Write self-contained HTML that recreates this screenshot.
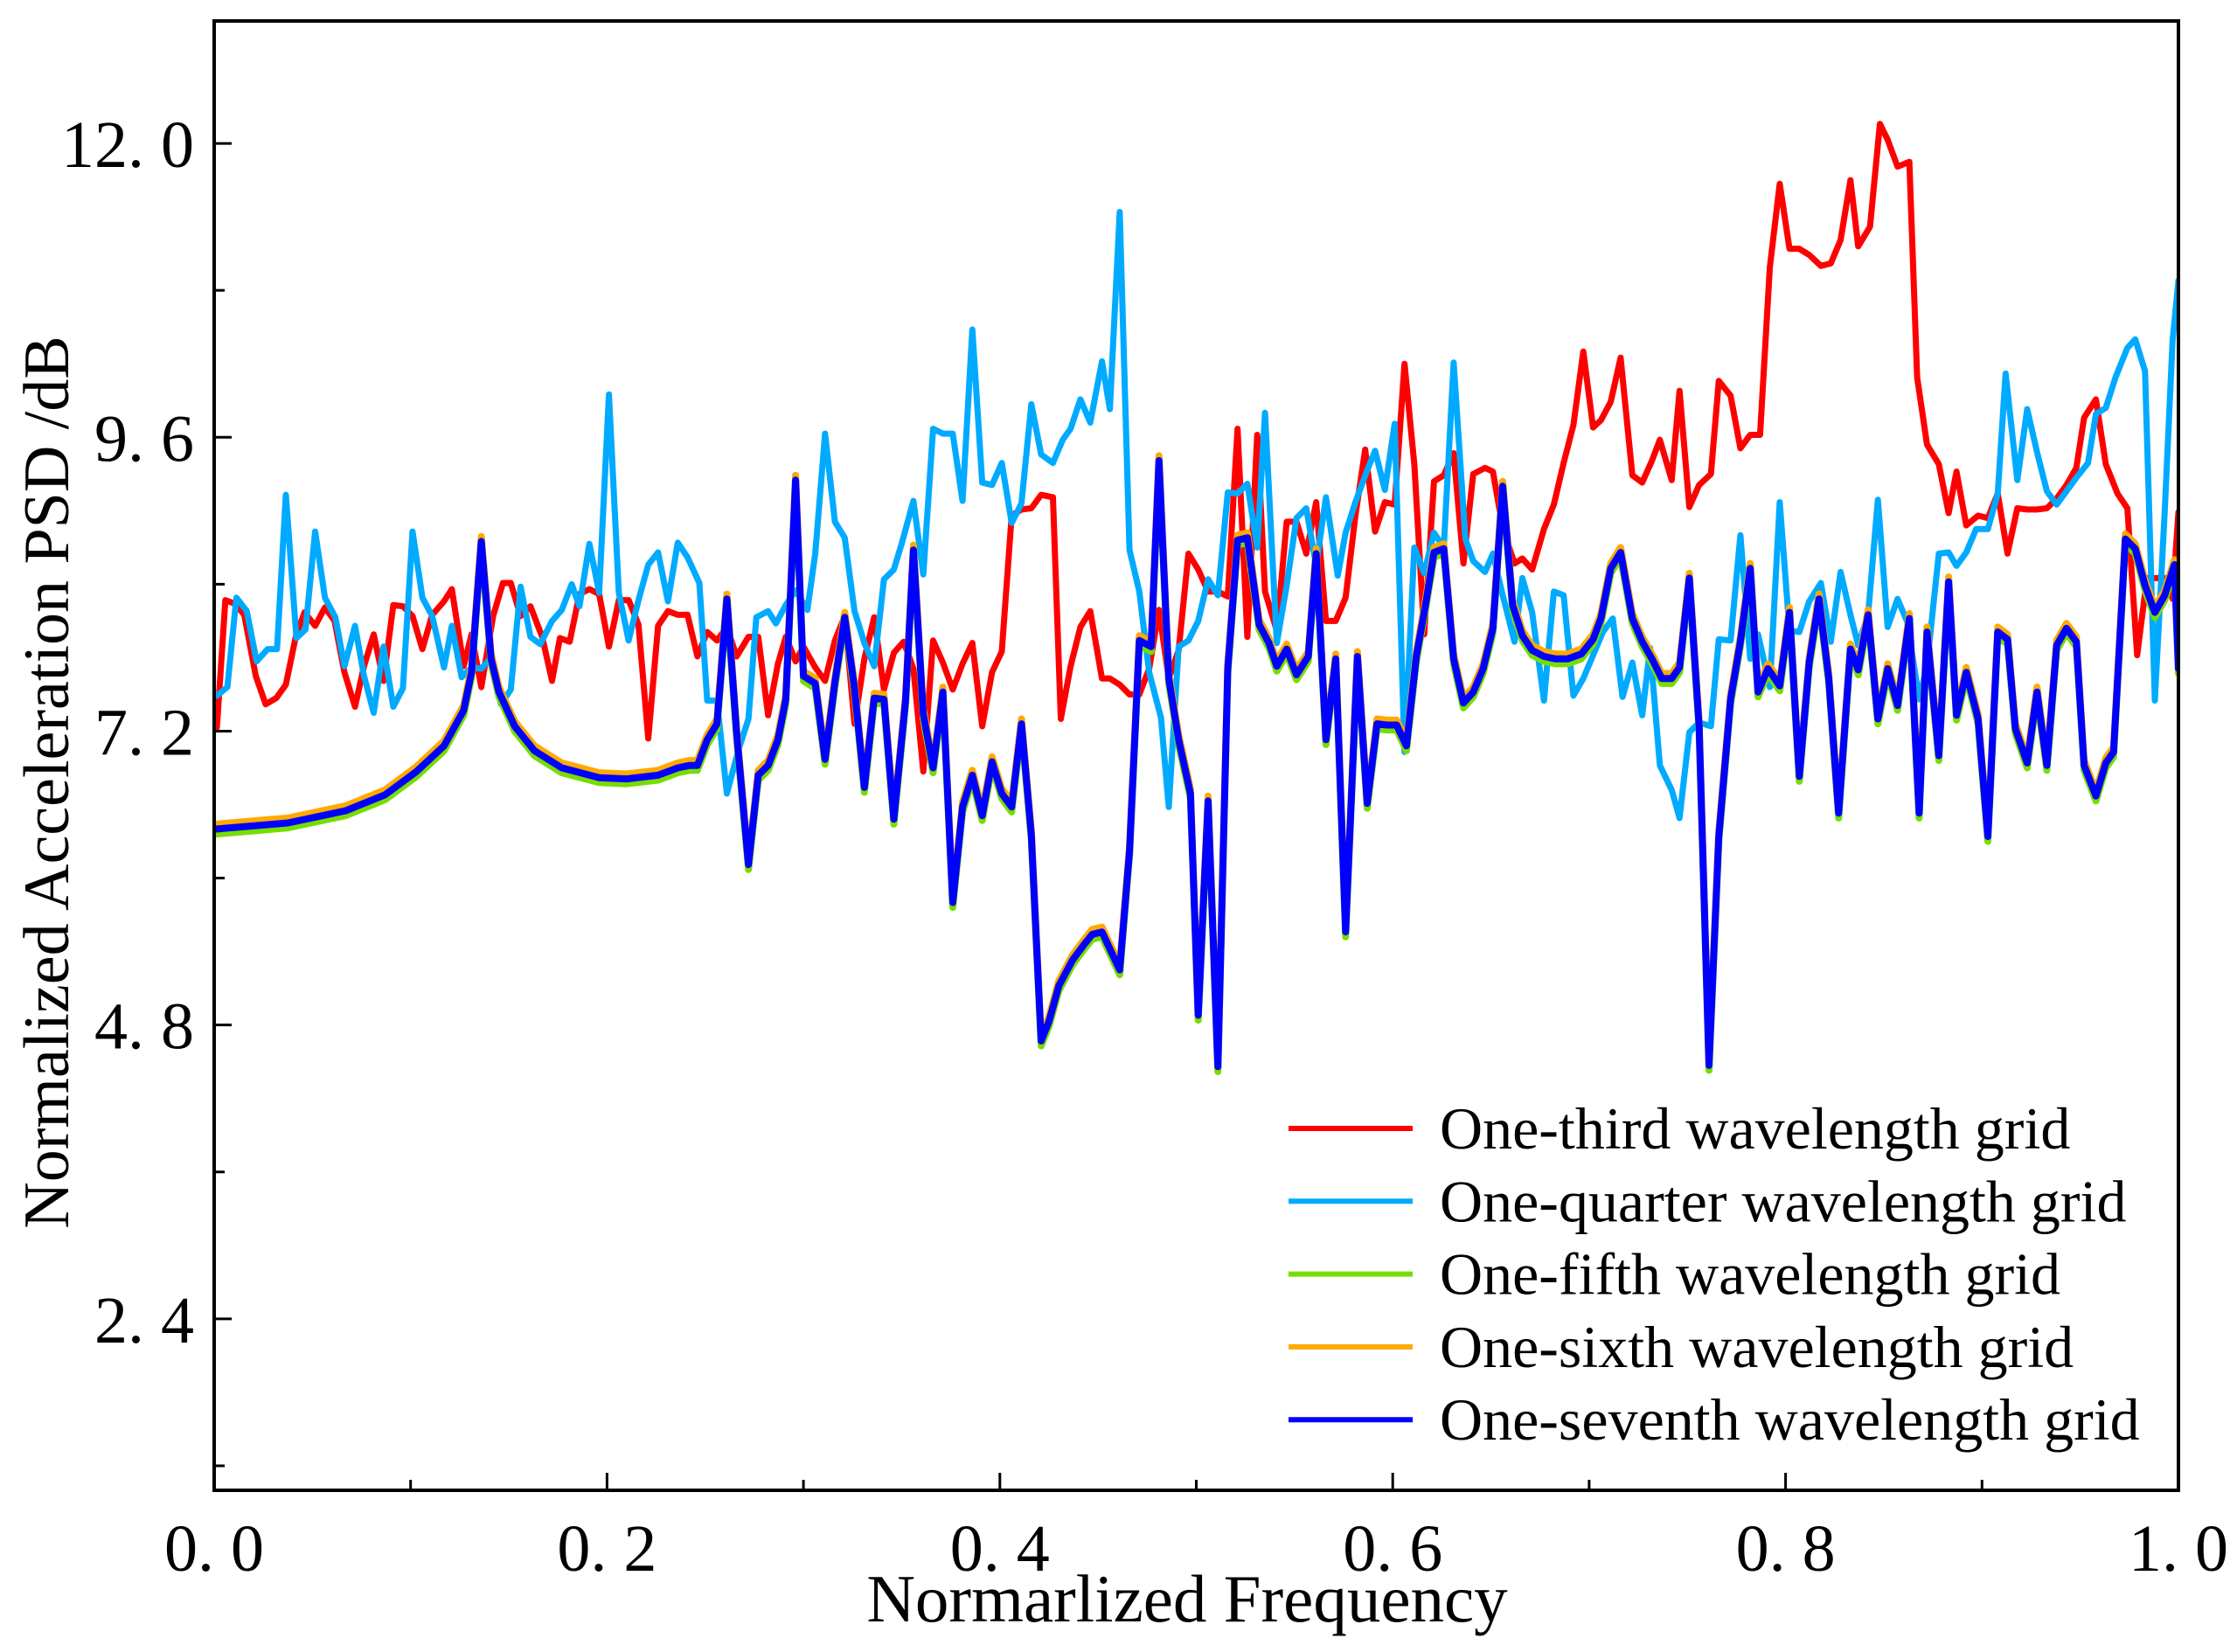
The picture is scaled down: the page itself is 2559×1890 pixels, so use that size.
<!DOCTYPE html>
<html><head><meta charset="utf-8"><style>
html,body{margin:0;padding:0;background:#fff;}
svg{display:block;font-family:"Liberation Serif","Noto Serif CJK SC",serif;}
</style></head><body>
<svg id="chart" width="2559" height="1890" viewBox="0 0 2559 1890" xmlns="http://www.w3.org/2000/svg">
<rect x="0" y="0" width="2559" height="1890" fill="#fff"/>
<g id="series"></g>
<g id="axes"></g>
<g id="legend"></g>
</svg>
<script>
const xTickVals=[0,0.2,0.4,0.6,0.8,1.0];
const xTickLabels=["0. 0","0. 2","0. 4","0. 6","0. 8","1. 0"];
const xMinorVals=[0.1,0.3,0.5,0.7,0.9];
const yTickVals=[2.4,4.8,7.2,9.6,12.0];
const yTickLabels=["2. 4","4. 8","7. 2","9. 6","12. 0"];
const yMinorVals=[1.2,3.6,6.0,8.4,10.8];
const legendLabels=["One-third wavelength grid","One-quarter wavelength grid","One-fifth wavelength grid","One-sixth wavelength grid","One-seventh wavelength grid"];

const thirdFreq=[0.0014,0.0057,0.0107,0.0153,0.0212,0.0262,0.0316,0.0365,0.0415,0.046,0.0514,0.0564,0.0613,0.0663,0.0717,0.0763,0.0812,0.0862,0.0912,0.0961,0.101,0.106,0.111,0.117,0.121,0.127,0.131,0.136,0.142,0.147,0.151,0.156,0.161,0.167,0.172,0.176,0.181,0.186,0.191,0.196,0.201,0.206,0.211,0.216,0.221,0.226,0.231,0.236,0.241,0.246,0.251,0.256,0.261,0.266,0.272,0.277,0.282,0.287,0.291,0.296,0.300,0.306,0.311,0.316,0.321,0.326,0.331,0.336,0.341,0.346,0.351,0.356,0.361,0.366,0.371,0.376,0.381,0.386,0.391,0.396,0.401,0.406,0.411,0.416,0.421,0.427,0.431,0.436,0.441,0.446,0.452,0.456,0.461,0.466,0.471,0.476,0.481,0.486,0.491,0.496,0.501,0.506,0.511,0.516,0.521,0.526,0.531,0.535,0.541,0.546,0.551,0.556,0.561,0.566,0.571,0.576,0.581,0.586,0.591,0.596,0.601,0.606,0.611,0.616,0.621,0.626,0.631,0.636,0.641,0.647,0.651,0.656,0.662,0.666,0.671,0.677,0.682,0.687,0.692,0.697,0.702,0.706,0.711,0.716,0.722,0.727,0.732,0.736,0.742,0.746,0.751,0.756,0.762,0.766,0.772,0.777,0.782,0.787,0.792,0.797,0.802,0.807,0.812,0.818,0.823,0.828,0.833,0.837,0.843,0.848,0.852,0.857,0.863,0.867,0.872,0.878,0.883,0.887,0.892,0.898,0.903,0.908,0.913,0.918,0.923,0.928,0.933,0.938,0.943,0.948,0.952,0.958,0.963,0.969,0.974,0.979,0.984,0.989,0.994,0.997,1.0];
const thirdVals=[7.23,8.27,8.24,8.15,7.65,7.42,7.47,7.58,7.97,8.17,8.06,8.21,8.10,7.68,7.40,7.73,7.99,7.61,8.23,8.22,8.14,7.87,8.15,8.26,8.36,7.73,7.99,7.56,8.14,8.41,8.41,8.14,8.22,7.97,7.61,7.96,7.93,8.32,8.36,8.32,7.89,8.27,8.27,8.07,7.14,8.06,8.18,8.15,8.15,7.81,8.01,7.94,8.05,7.81,7.97,7.97,7.33,7.75,7.97,7.77,7.89,7.72,7.61,7.94,8.14,7.26,7.79,8.13,7.54,7.84,7.93,7.71,6.87,7.94,7.76,7.54,7.75,7.92,7.24,7.68,7.85,8.96,9.01,9.02,9.13,9.11,7.30,7.73,8.05,8.18,7.63,7.63,7.58,7.50,7.50,7.71,8.19,7.63,7.86,8.65,8.52,8.34,8.34,8.30,9.67,7.97,9.62,8.34,8.02,8.91,8.91,8.65,9.07,8.10,8.10,8.29,8.96,9.50,8.83,9.07,9.05,10.2,9.38,7.99,9.24,9.29,9.47,8.57,9.30,9.35,9.32,8.86,8.57,8.61,8.52,8.85,9.05,9.39,9.70,10.30,9.68,9.74,9.89,10.25,9.29,9.23,9.41,9.58,9.25,9.98,9.03,9.21,9.30,10.06,9.94,9.51,9.62,9.62,10.99,11.67,11.14,11.14,11.09,11.00,11.02,11.21,11.70,11.16,11.32,12.16,12.03,11.81,11.85,10.09,9.54,9.38,8.98,9.32,8.88,8.96,8.94,9.14,8.65,9.02,9.01,9.01,9.02,9.10,9.21,9.35,9.76,9.91,9.38,9.14,9.02,7.82,8.45,8.45,8.45,8.28,8.99];

const quarterFreq=[0.0014,0.0067,0.0113,0.0166,0.0216,0.0272,0.032,0.0365,0.0419,0.0465,0.0514,0.0564,0.0617,0.0663,0.0717,0.0763,0.0812,0.0862,0.0912,0.0961,0.101,0.106,0.111,0.117,0.121,0.126,0.131,0.136,0.141,0.146,0.151,0.156,0.161,0.166,0.172,0.177,0.182,0.186,0.191,0.196,0.201,0.206,0.211,0.216,0.221,0.226,0.231,0.236,0.241,0.247,0.251,0.256,0.261,0.267,0.272,0.276,0.282,0.286,0.291,0.296,0.302,0.306,0.311,0.316,0.321,0.326,0.331,0.336,0.341,0.346,0.350,0.356,0.361,0.366,0.371,0.376,0.381,0.386,0.391,0.396,0.401,0.406,0.411,0.416,0.421,0.427,0.432,0.436,0.441,0.446,0.452,0.456,0.461,0.466,0.471,0.476,0.482,0.486,0.491,0.496,0.501,0.506,0.511,0.516,0.521,0.526,0.531,0.535,0.541,0.546,0.551,0.556,0.561,0.566,0.572,0.576,0.581,0.587,0.591,0.596,0.601,0.606,0.611,0.616,0.621,0.626,0.631,0.637,0.641,0.647,0.651,0.656,0.662,0.666,0.671,0.677,0.682,0.687,0.692,0.697,0.702,0.707,0.712,0.717,0.722,0.727,0.731,0.736,0.742,0.746,0.751,0.756,0.762,0.766,0.772,0.777,0.782,0.786,0.792,0.797,0.802,0.807,0.812,0.818,0.823,0.828,0.833,0.837,0.842,0.847,0.852,0.857,0.862,0.868,0.872,0.878,0.883,0.887,0.892,0.897,0.903,0.908,0.912,0.918,0.923,0.928,0.933,0.938,0.943,0.948,0.954,0.958,0.963,0.968,0.974,0.978,0.983,0.988,0.993,0.997,1.0];
const quarterVals=[7.49,7.56,8.29,8.18,7.77,7.87,7.87,9.13,7.96,8.03,8.83,8.29,8.13,7.73,8.06,7.65,7.35,7.89,7.40,7.55,8.83,8.29,8.14,7.72,8.06,7.64,7.72,7.71,7.80,7.42,7.54,8.38,7.97,7.91,8.10,8.19,8.40,8.22,8.73,8.33,9.95,8.33,7.94,8.27,8.56,8.66,8.26,8.74,8.62,8.41,7.45,7.45,6.69,7.05,7.30,8.13,8.18,8.08,8.23,8.35,8.19,8.65,9.63,8.91,8.78,8.18,7.92,7.73,8.44,8.52,8.73,9.08,8.48,9.67,9.63,9.63,9.08,10.48,9.23,9.21,9.39,8.90,9.06,9.87,9.46,9.39,9.58,9.67,9.91,9.72,10.22,9.83,11.44,8.68,8.34,7.68,7.31,6.58,7.89,7.94,8.10,8.44,8.31,9.15,9.14,9.22,8.70,9.80,7.92,8.39,8.94,9.02,8.55,9.11,8.47,8.82,9.07,9.33,9.49,9.17,9.71,7.03,8.70,8.49,8.82,8.70,10.21,8.77,8.59,8.50,8.65,8.31,7.93,8.45,8.17,7.45,8.34,8.31,7.49,7.63,7.82,8.01,8.12,7.48,7.76,7.33,7.88,6.92,6.72,6.49,7.19,7.27,7.24,7.95,7.94,8.80,7.79,7.99,7.56,9.07,8.02,8.01,8.26,8.41,7.93,8.50,8.15,7.90,8.15,9.09,8.05,8.28,8.09,7.46,7.74,8.65,8.66,8.55,8.66,8.85,8.85,9.14,10.12,9.25,9.83,9.48,9.16,9.05,9.16,9.27,9.39,9.79,9.84,10.09,10.33,10.40,10.14,7.45,8.99,10.39,10.88];

const gridFreq=[0.001,0.0375,0.067,0.087,0.103,0.117,0.127,0.131,0.136,0.141,0.145,0.153,0.163,0.177,0.196,0.21,0.226,0.236,0.242,0.246,0.251,0.256,0.261,0.266,0.272,0.277,0.282,0.287,0.291,0.296,0.300,0.306,0.311,0.316,0.321,0.326,0.331,0.336,0.341,0.346,0.352,0.356,0.361,0.366,0.371,0.376,0.381,0.386,0.391,0.396,0.401,0.406,0.411,0.416,0.421,0.425,0.430,0.437,0.443,0.447,0.452,0.461,0.466,0.471,0.477,0.481,0.486,0.491,0.497,0.501,0.506,0.511,0.516,0.521,0.526,0.532,0.537,0.541,0.546,0.551,0.557,0.561,0.566,0.571,0.576,0.582,0.587,0.592,0.597,0.602,0.607,0.612,0.617,0.621,0.626,0.631,0.636,0.641,0.646,0.651,0.656,0.661,0.666,0.671,0.677,0.683,0.689,0.696,0.702,0.706,0.711,0.716,0.722,0.727,0.732,0.737,0.742,0.746,0.751,0.756,0.761,0.766,0.772,0.777,0.782,0.786,0.791,0.797,0.802,0.807,0.812,0.817,0.822,0.827,0.833,0.837,0.842,0.847,0.852,0.857,0.863,0.868,0.872,0.878,0.883,0.887,0.892,0.898,0.903,0.908,0.913,0.917,0.923,0.928,0.933,0.938,0.943,0.948,0.952,0.958,0.963,0.967,0.973,0.978,0.983,0.988,0.993,0.998,1.0];
const fifthVals=[6.36,6.41,6.51,6.64,6.83,7.04,7.33,7.64,8.71,7.75,7.48,7.20,7.00,6.86,6.78,6.77,6.80,6.86,6.88,6.88,7.09,7.22,8.24,7.14,6.07,6.80,6.88,7.09,7.42,9.21,7.61,7.55,6.93,7.56,8.09,7.51,6.70,7.43,7.42,6.44,7.41,8.64,7.30,6.86,7.48,5.76,6.54,6.80,6.47,6.91,6.65,6.54,7.22,6.31,4.63,4.79,5.08,5.29,5.42,5.50,5.52,5.21,6.18,7.90,7.85,9.37,7.59,7.09,6.65,4.84,6.59,4.42,7.67,8.72,8.74,8.03,7.88,7.69,7.83,7.62,7.77,8.61,7.09,7.75,5.52,7.77,6.57,7.22,7.21,7.21,7.04,7.77,8.22,8.62,8.65,7.75,7.39,7.48,7.67,8.00,9.16,8.19,7.94,7.82,7.77,7.75,7.75,7.79,7.91,8.08,8.49,8.62,8.08,7.89,7.75,7.59,7.59,7.68,8.41,7.20,4.43,6.30,7.42,7.89,8.49,7.48,7.67,7.53,8.13,6.79,7.72,8.24,7.59,6.49,7.83,7.66,8.11,7.26,7.67,7.37,8.08,6.49,7.97,6.96,8.38,7.29,7.64,7.26,6.30,7.97,7.91,7.18,6.90,7.48,6.88,7.86,8.00,7.89,6.88,6.63,6.90,6.99,8.73,8.65,8.35,8.13,8.27,8.52,7.67];
const sixthVals=[6.44,6.49,6.59,6.72,6.91,7.12,7.41,7.72,8.79,7.83,7.56,7.28,7.08,6.94,6.86,6.85,6.88,6.94,6.96,6.96,7.17,7.30,8.32,7.22,6.15,6.88,6.96,7.17,7.50,9.29,7.69,7.63,7.01,7.64,8.17,7.59,6.78,7.51,7.50,6.52,7.49,8.72,7.38,6.94,7.56,5.84,6.62,6.88,6.55,6.99,6.73,6.62,7.30,6.39,4.71,4.87,5.16,5.37,5.50,5.58,5.60,5.29,6.26,7.98,7.93,9.45,7.67,7.17,6.73,4.92,6.67,4.50,7.75,8.80,8.82,8.11,7.96,7.77,7.91,7.70,7.85,8.69,7.17,7.83,5.60,7.85,6.65,7.30,7.29,7.29,7.12,7.85,8.30,8.70,8.73,7.83,7.47,7.56,7.75,8.08,9.24,8.27,8.02,7.90,7.85,7.83,7.83,7.87,7.99,8.16,8.57,8.70,8.16,7.97,7.83,7.67,7.67,7.76,8.49,7.28,4.51,6.38,7.50,7.97,8.57,7.56,7.75,7.61,8.21,6.87,7.80,8.32,7.67,6.57,7.91,7.74,8.19,7.34,7.75,7.45,8.16,6.57,8.05,7.04,8.46,7.37,7.72,7.34,6.38,8.05,7.99,7.26,6.98,7.56,6.96,7.94,8.08,7.97,6.96,6.71,6.98,7.07,8.81,8.73,8.43,8.21,8.35,8.60,7.75];
const seventhVals=[6.40,6.45,6.55,6.68,6.87,7.08,7.37,7.68,8.75,7.79,7.52,7.24,7.04,6.90,6.82,6.81,6.84,6.90,6.92,6.92,7.13,7.26,8.28,7.18,6.11,6.84,6.92,7.13,7.46,9.25,7.65,7.59,6.97,7.60,8.13,7.55,6.74,7.47,7.46,6.48,7.45,8.68,7.34,6.90,7.52,5.80,6.58,6.84,6.51,6.95,6.69,6.58,7.26,6.35,4.67,4.83,5.12,5.33,5.46,5.54,5.56,5.25,6.22,7.94,7.89,9.41,7.63,7.13,6.69,4.88,6.63,4.46,7.71,8.76,8.78,8.07,7.92,7.73,7.87,7.66,7.81,8.65,7.13,7.79,5.56,7.81,6.61,7.26,7.25,7.25,7.08,7.81,8.26,8.66,8.69,7.79,7.43,7.52,7.71,8.04,9.20,8.23,7.98,7.86,7.81,7.79,7.79,7.83,7.95,8.12,8.53,8.66,8.12,7.93,7.79,7.63,7.63,7.72,8.45,7.24,4.47,6.34,7.46,7.93,8.53,7.52,7.71,7.57,8.17,6.83,7.76,8.28,7.63,6.53,7.87,7.70,8.15,7.30,7.71,7.41,8.12,6.53,8.01,7.00,8.42,7.33,7.68,7.30,6.34,8.01,7.95,7.22,6.94,7.52,6.92,7.90,8.04,7.93,6.92,6.67,6.94,7.03,8.77,8.69,8.39,8.17,8.31,8.56,7.71];

const NS="http://www.w3.org/2000/svg";
const L=245,R=2492,T=24,B=1705,XMIN=0,XMAX=1,YMIN=1,YMAX=13;
function xs(v){return L+(v-XMIN)/(XMAX-XMIN)*(R-L);}
function ys(v){return B-(v-YMIN)/(YMAX-YMIN)*(B-T);}
function mk(tag,attrs,parent){const e=document.createElementNS(NS,tag);for(const k in attrs)e.setAttribute(k,attrs[k]);parent.appendChild(e);return e;}
const gS=document.getElementById('series'),gA=document.getElementById('axes'),gL=document.getElementById('legend');
const clip=mk('clipPath',{id:'pc'},document.getElementById('chart'));
mk('rect',{x:L,y:T,width:R-L,height:B-T},clip);
gS.setAttribute('clip-path','url(#pc)');

function drawLine(freq,vals,color,w,name){
  let d='';
  for(let i=0;i<freq.length;i++){d+=(i?'L':'M')+xs(freq[i]).toFixed(1)+','+ys(vals[i]).toFixed(1);}
  const p=mk('path',{d:d,fill:'none',stroke:color,'stroke-width':w,'stroke-linejoin':'round','stroke-linecap':'round'},gS);
  
  
}
drawLine(thirdFreq,thirdVals,'#ff0000',7,'one-third-series');
drawLine(quarterFreq,quarterVals,'#00aaff',7,'one-quarter-series');
drawLine(gridFreq,fifthVals,'#77dd00',8,'one-fifth-series');
drawLine(gridFreq,sixthVals,'#ffaa00',8,'one-sixth-series');
drawLine(gridFreq,seventhVals,'#0000ff',8,'one-seventh-series');

const fr=mk('rect',{x:L,y:T,width:R-L,height:B-T,fill:'none',stroke:'#000','stroke-width':4},gA);


xTickVals.forEach((v,i)=>{
  const x=xs(v);
  const t=mk('line',{x1:x,y1:B,x2:x,y2:B-20,stroke:'#000','stroke-width':3},gA);
  
  
  const tx=mk('text',{x:x,y:1797,'font-size':76,'text-anchor':'middle',fill:'#000'},gA);
  tx.textContent=xTickLabels[i];
  
  
});
xMinorVals.forEach(v=>{
  const x=xs(v);
  const t=mk('line',{x1:x,y1:B,x2:x,y2:B-12,stroke:'#000','stroke-width':3},gA);
  
  
});
yTickVals.forEach((v,i)=>{
  const y=ys(v);
  const t=mk('line',{x1:L,y1:y,x2:L+20,y2:y,stroke:'#000','stroke-width':3},gA);
  
  
  const tx=mk('text',{x:222,y:y+27,'font-size':76,'text-anchor':'end',fill:'#000'},gA);
  tx.textContent=yTickLabels[i];
  
  
});
yMinorVals.forEach(v=>{
  const y=ys(v);
  const t=mk('line',{x1:L,y1:y,x2:L+12,y2:y,stroke:'#000','stroke-width':3},gA);
  
  
});
const xt=mk('text',{x:1358,y:1855,'font-size':77,'text-anchor':'middle',fill:'#000'},gA);
xt.textContent='Normarlized Frequency';


const yt=mk('text',{x:0,y:0,'font-size':74,'text-anchor':'middle',fill:'#000',transform:'translate(78,895) rotate(-90)'},gA);
yt.textContent='Normalized Acceleration PSD /dB';



const legColors=['#ff0000','#00aaff','#77dd00','#ffaa00','#0000ff'];
legendLabels.forEach((lab,i)=>{
  const y=1291+i*83.3;
  const g=mk('g',{},gL);
  
  
  mk('line',{x1:1474,y1:y,x2:1616,y2:y,stroke:legColors[i],'stroke-width':6},g);
  const t=mk('text',{x:1647,y:y+23,'font-size':68,fill:'#000'},g);
  t.textContent=lab;
});
</script>
</body></html>
